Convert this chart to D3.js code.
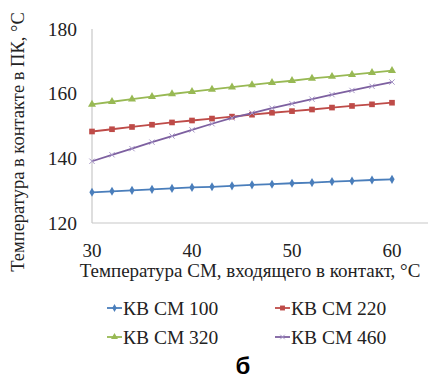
<!DOCTYPE html>
<meta charset="utf-8">
<head>
    <style>
        *{ padding: 0; margin: 0; }
        body{ background: #fff; }
    </style>
</head>
<body>
<svg id="chart" width="430" height="378"></svg>
<script src="https://cdn.jsdelivr.net/npm/d3@7"></script>
<script>
    // температура СМ, входящего в контакт
    var xValues = [30, 32, 34, 36, 38, 40, 42, 44, 46, 48, 50, 52, 54, 56, 58, 60];

    var kv100 = [129.5, 129.8, 130.1, 130.4, 130.7, 131.0, 131.2, 131.5, 131.8, 132.0, 132.3, 132.5, 132.8, 133.0, 133.3, 133.5];
    var kv220 = [148.3, 149.0, 149.7, 150.4, 151.1, 151.7, 152.3, 152.9, 153.5, 154.1, 154.6, 155.1, 155.7, 156.2, 156.7, 157.2];
    var kv320 = [156.7, 157.5, 158.3, 159.1, 159.9, 160.6, 161.3, 162.0, 162.7, 163.4, 164.0, 164.7, 165.3, 165.9, 166.5, 167.1];
    var kv460 = [139.1, 141.1, 143.0, 145.0, 146.9, 148.8, 150.7, 152.5, 154.0, 155.5, 156.9, 158.3, 159.7, 161.0, 162.3, 163.6];

    var seriesNames = ["КВ СМ 100", "КВ СМ 220", "КВ СМ 320", "КВ СМ 460"];
    var xTicks = [30, 40, 50, 60];
    var yTicks = [120, 140, 160, 180];

    var series = [
        {name: seriesNames[0], values: kv100, color: "#4a7ebb", marker: "diamond"},
        {name: seriesNames[1], values: kv220, color: "#be4b48", marker: "square"},
        {name: seriesNames[2], values: kv320, color: "#98b954", marker: "triangle"},
        {name: seriesNames[3], values: kv460, color: "#7d60a0", marker: "cross"}
    ];

    var svg = d3.select("#chart");

    var x = d3.scaleLinear().domain([30, 60]).range([92, 392]);
    var y = d3.scaleLinear().domain([120, 180]).range([223, 29]);

    // подпись текстом с шрифтом Times-подобным
    function label(px, py, txt, size, anchor) {
        return svg.append("text")
            .attr("x", px)
            .attr("y", py)
            .attr("text-anchor", anchor || "start")
            .attr("fill", "#222")
            .attr("font-family", "Liberation Serif")
            .attr("font-size", size)
            .text(txt);
    }

    // оси
    svg.append("line")
        .attr("x1", x(30)).attr("x2", 428)
        .attr("y1", y(120)).attr("y2", y(120))
        .attr("stroke", "#c8c8c8").attr("stroke-width", 1.2);
    svg.append("line")
        .attr("x1", x(30)).attr("x2", x(30))
        .attr("y1", y(120)).attr("y2", y(180))
        .attr("stroke", "#c8c8c8").attr("stroke-width", 1.2);

    yTicks.forEach(function(d) {
        label(77, y(d) + 6.5, String(d), 19.5, "end");
    });
    xTicks.forEach(function(d) {
        label(x(d), 257, String(d), 19, "middle");
    });

    label(250, 277, "Температура СМ, входящего в контакт, °С", 19, "middle");

    label(0, 0, "Температура в контакте в ПК, °С", 18.5, "middle")
        .attr("transform", "translate(24,142) rotate(-90)");

    // маркеры
    function drawMarker(g, type, color, size) {
        if (type == "diamond") {
            g.append("path").attr("d", d3.symbol(d3.symbolDiamond, size * 6)())
                .attr("fill", color);
        } else if (type == "square") {
            g.append("path").attr("d", d3.symbol(d3.symbolSquare, size * 8)())
                .attr("fill", color);
        } else if (type == "triangle") {
            g.append("path").attr("d", d3.symbol(d3.symbolTriangle, size * 7)())
                .attr("fill", color);
        } else {
            g.append("path").attr("d", d3.symbol(d3.symbolTimes, size * 5)())
                .attr("fill", "none").attr("stroke", "#a898c8").attr("stroke-width", 1);
        }
    }

    var line = d3.line()
        .x(function(d, i) { return x(xValues[i]); })
        .y(function(d) { return y(d); });

    series.forEach(function(s) {
        svg.append("path")
            .attr("d", line(s.values))
            .attr("fill", "none")
            .attr("stroke", s.color)
            .attr("stroke-width", 1.8);

        s.values.forEach(function(v, i) {
            var g = svg.append("g")
                .attr("transform", "translate(" + x(xValues[i]) + "," + y(v) + ")");
            drawMarker(g, s.marker, s.color, 4);
        });
    });

    // легенда
    var legendPos = [[107, 308], [275, 308], [107, 337], [275, 337]];
    series.forEach(function(s, i) {
        var p = legendPos[i];
        svg.append("line")
            .attr("x1", p[0]).attr("x2", p[0] + 15)
            .attr("y1", p[1]).attr("y2", p[1])
            .attr("stroke", s.color).attr("stroke-width", 1.8);
        var g = svg.append("g").attr("transform", "translate(" + (p[0] + 7.5) + "," + p[1] + ")");
        drawMarker(g, s.marker, s.color, 3);
        label(p[0] + 16, p[1] + 6.5, s.name, 19.5);
    });

    svg.append("text")
        .attr("x", 243)
        .attr("y", 374)
        .attr("text-anchor", "middle")
        .attr("fill", "#000")
        .attr("font-family", "Liberation Sans")
        .attr("font-weight", "bold")
        .attr("font-size", 24)
        .text("б");
</script>
</body>
